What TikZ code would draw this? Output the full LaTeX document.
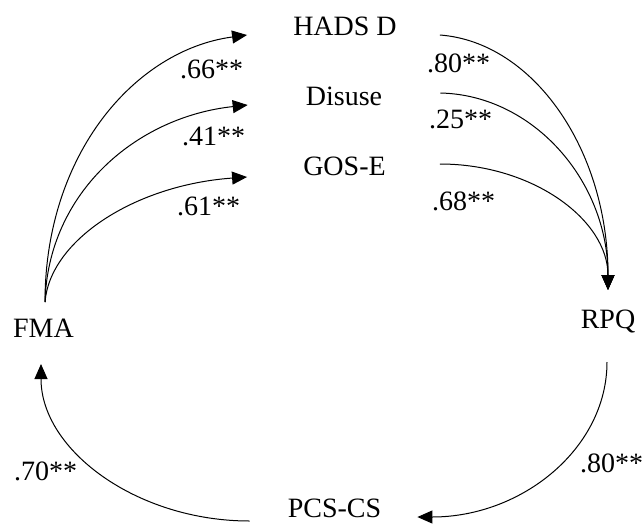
\documentclass[tikz,border=0pt]{standalone}
\usepackage{fontspec}
\setmainfont{Liberation Serif}
\usetikzlibrary{arrows.meta}
\begin{document}
\begin{tikzpicture}[x=1pt,y=-1pt,
  lbl/.style={font=\fontsize{28}{34}\selectfont, inner sep=0pt, anchor=base},
  num/.style={font=\fontsize{28}{34}\selectfont, inner sep=0pt, anchor=base west},
  link/.style={line width=1pt},
  arr/.style={link, -{Triangle[length=15pt,width=13pt]}}]
\useasboundingbox (0,0) rectangle (643,523);
% variables
\node[lbl] (hads) at (345,35) {HADS D};
\node[lbl] (dis) at (344,105) {Disuse};
\node[lbl] (gos) at (344.5,175) {GOS-E};
\node[lbl] (fma) at (43.5,337) {FMA};
\node[lbl] (rpq) at (608,328) {RPQ};
\node[lbl] (pcs) at (334.5,517) {PCS-CS};
% coefficients
\node[num] (l66) at (180,78) {.66**};
\node[num] (l41) at (182,145) {.41**};
\node[num] (l61) at (177,215) {.61**};
\node[num] (r80) at (427,72) {.80**};
\node[num] (r25) at (429,128) {.25**};
\node[num] (r68) at (432,210) {.68**};
\node[num] (b70) at (14,480) {.70**};
\node[num] (b80) at (580,472) {.80**};
% FMA -> mediators
\draw[arr] ([xshift=1.5pt,yshift=35pt]fma.base) .. controls +(0,-148) and +(-112,15) .. ([xshift=-46pt]hads.base west);
\draw[arr] ([xshift=1.5pt,yshift=35pt]fma.base) .. controls +(3,-109) and +(-112,12) .. ([xshift=-58pt]dis.base west);
\draw[arr] ([xshift=1.5pt,yshift=35pt]fma.base) .. controls +(5,-62) and +(-112,8) .. ([xshift=-56pt,yshift=-2pt]gos.base west);
% mediators -> RPQ
\draw[arr] ([xshift=43pt]hads.base east) .. controls +(93,7) and +(0,-141) .. ([yshift=38pt]rpq.base);
\draw[arr] ([xshift=58pt,yshift=12pt]dis.base east) .. controls +(93,2) and +(0,-109) .. ([yshift=38pt]rpq.base);
\draw[arr] ([xshift=54pt,yshift=11pt]gos.base east) .. controls +(93,0) and +(0,-70) .. ([yshift=38pt]rpq.base);
% RPQ -> PCS-CS
\draw[arr] ([xshift=-1pt,yshift=-34pt]rpq.base) .. controls +(0,86) and +(105,0) .. ([xshift=36pt]pcs.base east);
% PCS-CS -> FMA
\draw[arr] ([xshift=-38pt,yshift=-4pt]pcs.base west) .. controls +(-113,0) and +(0,86) .. ([xshift=-2.5pt,yshift=-27pt]fma.base);
\end{tikzpicture}
\end{document}
